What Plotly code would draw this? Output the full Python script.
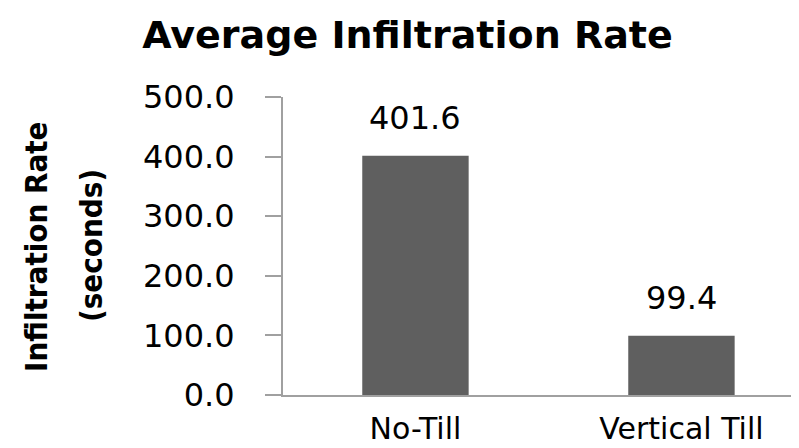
import plotly.graph_objects as go

categories = ["No-Till", "Vertical Till"]
values = [401.6, 99.4]
value_labels = ["401.6", "99.4"]
y_ticks = [0, 100, 200, 300, 400, 500]
y_tick_labels = ["0.0", "100.0", "200.0", "300.0", "400.0", "500.0"]
title_text = "Average Infiltration Rate"
y_title_lines = ["Infiltration Rate", "(seconds)"]

BAR_COLOR = "#5f5f5f"
AXIS_COLOR = "#a0a0a0"
FONT = "DejaVu Sans"
NARROW = "DejaVu Sans Condensed, Liberation Sans Narrow, Noto Sans, sans-serif"

fig = go.Figure()
fig.add_trace(go.Bar(
    x=[0, 1], y=values, width=0.4,
    marker=dict(color=BAR_COLOR, line=dict(width=0)),
    hoverinfo="skip",
))

for i, (v, lab) in enumerate(zip(values, value_labels)):
    fig.add_annotation(
        x=i, y=v, xref="x", yref="y", text=lab, showarrow=False,
        yanchor="bottom", yshift=17,
        font=dict(family=FONT, size=32, color="#000000"),
    )

# y-axis title: two rotated lines, placed individually
line_x = [-0.4714, -0.3664]
for line, xp in zip(y_title_lines, line_x):
    fig.add_annotation(
        x=xp, y=0.5, xref="paper", yref="paper",
        text='<span style="font-stretch:condensed">' + line + "</span>",
        textangle=-90, showarrow=False, xanchor="center", yanchor="middle",
        font=dict(family=NARROW, size=31, color="#000000", weight="bold"),
    )

fig.update_layout(
    width=799, height=448,
    margin=dict(l=275, r=0, t=89, b=61, pad=0),
    paper_bgcolor="white", plot_bgcolor="white",
    showlegend=False,
    title=dict(
        text="<b>" + title_text + "</b>",
        x=0.5, xanchor="center", xref="container",
        y=1 - 27 / 448, yanchor="middle", yref="container",
        font=dict(family=FONT, size=38, color="#000000"),
    ),
    xaxis=dict(
        range=[-0.498, 1.472],
        tickmode="array", tickvals=[0, 1], ticktext=categories,
        showline=True, linecolor=AXIS_COLOR, linewidth=2,
        ticks="", showgrid=False, zeroline=False,
        tickfont=dict(family=FONT, size=30, color="#000000"),
        ticklabelstandoff=6,
    ),
    yaxis=dict(
        range=[0, 500],
        tickmode="array", tickvals=y_ticks, ticktext=y_tick_labels,
        showline=True, linecolor=AXIS_COLOR, linewidth=2,
        ticks="outside", ticklen=16, tickcolor=AXIS_COLOR, tickwidth=2,
        showgrid=False, zeroline=False,
        tickfont=dict(family=FONT, size=32, color="#000000"),
        ticklabelstandoff=24,
    ),
)

fig.write_html("out.html")
